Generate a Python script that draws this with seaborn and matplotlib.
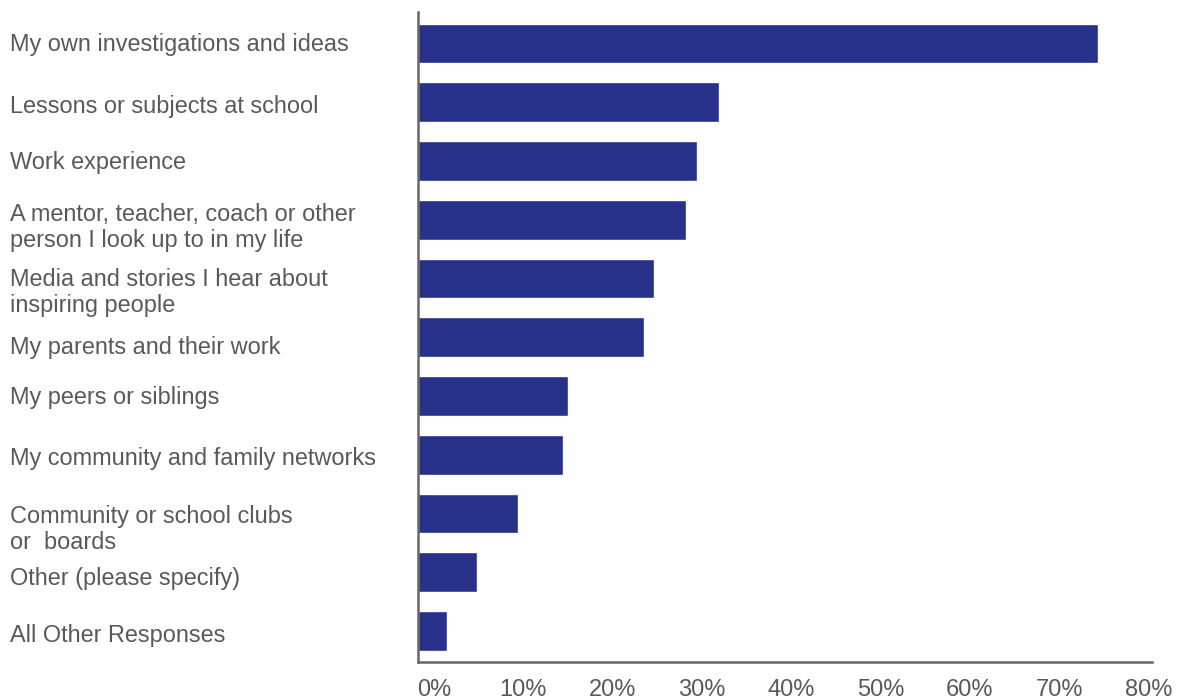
import matplotlib
matplotlib.use("Agg")
import matplotlib.pyplot as plt
import matplotlib.transforms as mtransforms
import seaborn as sns
import pandas as pd

categories = [
    "My own investigations and ideas",
    "Lessons or subjects at school",
    "Work experience",
    "A mentor, teacher, coach or other\nperson I look up to in my life",
    "Media and stories I hear about\ninspiring people",
    "My parents and their work",
    "My peers or siblings",
    "My community and family networks",
    "Community or school clubs\nor  boards",
    "Other (please specify)",
    "All Other Responses",
]
values = [76.1, 33.7, 31.2, 30.0, 26.4, 25.3, 16.8, 16.2, 11.2, 6.6, 3.3]
tick_values = [0, 10, 20, 30, 40, 50, 60, 70, 80]
tick_labels = ["0%", "10%", "20%", "30%", "40%", "50%", "60%", "70%", "80%"]

# vertical nudges (pixels, downward) of the category labels, as in the original layout
label_nudge_px = [-1, 2, -1, 4, 10, 8, -1, 1, 12, 4, 2]

df = pd.DataFrame({"category": categories, "value": values})

sns.set_theme(style="white")
plt.rcParams["font.family"] = ["Liberation Sans", "DejaVu Sans"]

BAR = "#28318A"
TEXT = "#595959"
SPINE = "#666666"

fig = plt.figure(figsize=(11.84, 7.0), dpi=100)
ax = fig.add_axes([418 / 1184, 38 / 700, (1152 - 418) / 1184, (662 - 12) / 700])

sns.barplot(data=df, x="value", y="category", order=categories, color=BAR,
            saturation=1, width=0.68, orient="h", ax=ax)

ax.set_xlim(0, 82.2)
ax.set_ylim(10.528, -0.536)
ax.set_xlabel("")
ax.set_ylabel("")

for s in ["top", "right"]:
    ax.spines[s].set_visible(False)
for s in ["left", "bottom"]:
    ax.spines[s].set_color(SPINE)
    ax.spines[s].set_linewidth(1.8)

ax.set_xticks(tick_values)
ax.set_xticklabels(tick_labels, fontsize=17, color=TEXT)
ax.tick_params(axis="x", length=0, pad=12)
offset = mtransforms.ScaledTranslation(16 / 100, 0, fig.dpi_scale_trans)
for lab in ax.get_xticklabels():
    lab.set_transform(lab.get_transform() + offset)

ax.set_yticks(range(len(categories)))
ax.set_yticklabels(categories, fontsize=16.9, color=TEXT, ha="left", linespacing=1.17)
ax.tick_params(axis="y", length=0, pad=408 * 0.72)
for lab, dy in zip(ax.get_yticklabels(), label_nudge_px):
    lab.set_transform(lab.get_transform()
                      + mtransforms.ScaledTranslation(0, -dy / 100, fig.dpi_scale_trans))

fig.savefig("out.png", dpi=100)
